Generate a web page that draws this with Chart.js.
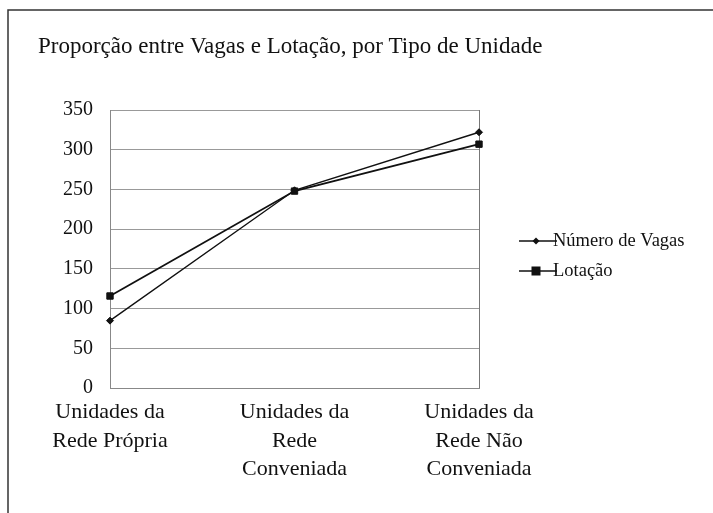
<!DOCTYPE html>
<html>
<head>
<meta charset="utf-8">
<script src="https://cdn.jsdelivr.net/npm/chart.js@4.4.1/dist/chart.umd.min.js"></script>
<style>
  html, body { margin: 0; padding: 0; background: #fff; }
  #wrap { width: 713px; height: 513px; position: relative; }
</style>
</head>
<body>
<div id="wrap"><canvas id="c" width="713" height="513"></canvas></div>
<script>
const titleText = "Proporção entre Vagas e Lotação, por Tipo de Unidade";
const categories = [
  ["Unidades da", "Rede Própria"],
  ["Unidades da", "Rede", "Conveniada"],
  ["Unidades da", "Rede Não", "Conveniada"]
];
const seriesNames = ["Número de Vagas", "Lotação"];
const vagas = [85, 249, 322];
const lotacao = [116, 248, 307];
const yTicks = [0, 50, 100, 150, 200, 250, 300, 350];

const FONT = "'Liberation Serif', 'DejaVu Serif', serif";

const framePlugin = {
  id: 'frame',
  beforeDraw(chart) {
    const ctx = chart.ctx;
    ctx.save();
    ctx.strokeStyle = '#333';
    ctx.lineWidth = 1.5;
    ctx.beginPath();
    ctx.moveTo(8, 513);
    ctx.lineTo(8, 10);
    ctx.lineTo(713, 10);
    ctx.stroke();
    const a = chart.chartArea;
    ctx.strokeStyle = '#777';
    ctx.lineWidth = 1;
    ctx.beginPath();
    ctx.moveTo(Math.round(a.right) + 0.5, a.top);
    ctx.lineTo(Math.round(a.right) + 0.5, a.bottom);
    ctx.stroke();
    // title
    ctx.fillStyle = '#111';
    ctx.font = "23px " + FONT;
    ctx.textBaseline = 'middle';
    ctx.textAlign = 'left';
    ctx.fillText(titleText, 38, 47);
    ctx.restore();
  }
};

const legendPlugin = {
  id: 'lineLegend',
  afterDraw(chart) {
    const ctx = chart.ctx;
    ctx.save();
    const x0 = 519, x1 = 553, xm = 536;
    const ys = [241, 271];
    chart.data.datasets.forEach((ds, i) => {
      const y = ys[i];
      ctx.strokeStyle = ds.borderColor;
      ctx.lineWidth = 1.3;
      ctx.beginPath();
      ctx.moveTo(x0, y);
      ctx.lineTo(x1 + 4, y);
      ctx.stroke();
      ctx.fillStyle = ds.pointBackgroundColor;
      if (ds.pointStyle === 'rect') {
        ctx.fillRect(xm - 4.5, y - 4.5, 9, 9);
      } else {
        ctx.beginPath();
        ctx.moveTo(xm, y - 3.5);
        ctx.lineTo(xm + 3.5, y);
        ctx.lineTo(xm, y + 3.5);
        ctx.lineTo(xm - 3.5, y);
        ctx.closePath();
        ctx.fill();
      }
      ctx.fillStyle = '#111';
      ctx.font = "18.5px " + FONT;
      ctx.textBaseline = 'middle';
      ctx.textAlign = 'left';
      ctx.fillText(ds.label, x1, y);
    });
    ctx.restore();
  }
};

new Chart(document.getElementById('c'), {
  type: 'line',
  data: {
    labels: categories,
    datasets: [
      {
        label: seriesNames[0],
        data: vagas,
        borderColor: '#111',
        backgroundColor: '#111',
        pointBackgroundColor: '#111',
        pointBorderColor: '#111',
        borderWidth: 1.4,
        pointStyle: 'rectRot',
        pointRadius: 3.5,
        pointBorderWidth: 1,
        tension: 0
      },
      {
        label: seriesNames[1],
        data: lotacao,
        borderColor: '#111',
        backgroundColor: '#111',
        pointBackgroundColor: '#111',
        pointBorderColor: '#111',
        borderWidth: 1.8,
        pointStyle: 'rect',
        pointRadius: 4.5,
        pointBorderWidth: 1,
        tension: 0
      }
    ]
  },
  options: {
    responsive: false,
    animation: false,
    layout: { padding: { left: 38, right: 234, top: 110, bottom: 19 } },
    plugins: {
      legend: { display: false },
      tooltip: { enabled: false },
      title: { display: false }
    },
    scales: {
      x: {
        offset: false,
        grid: { display: false, drawTicks: false },
        border: { display: true, color: '#888', width: 1 },
        ticks: {
          color: '#111',
          maxRotation: 0,
          autoSkip: false,
          padding: 10,
          font: { family: FONT, size: 22, lineHeight: 1.3 }
        }
      },
      y: {
        min: 0,
        max: 350,
        afterBuildTicks(scale) { scale.ticks = yTicks.map(v => ({ value: v })); },
        afterFit(scale) { scale.width = 72; },
        grid: { color: '#999', lineWidth: 1, drawTicks: false },
        border: { display: true, color: '#888', width: 1 },
        ticks: {
          color: '#111',
          padding: 17,
          font: { family: FONT, size: 20 }
        }
      }
    }
  },
  plugins: [framePlugin, legendPlugin]
});
</script>
</body>
</html>
